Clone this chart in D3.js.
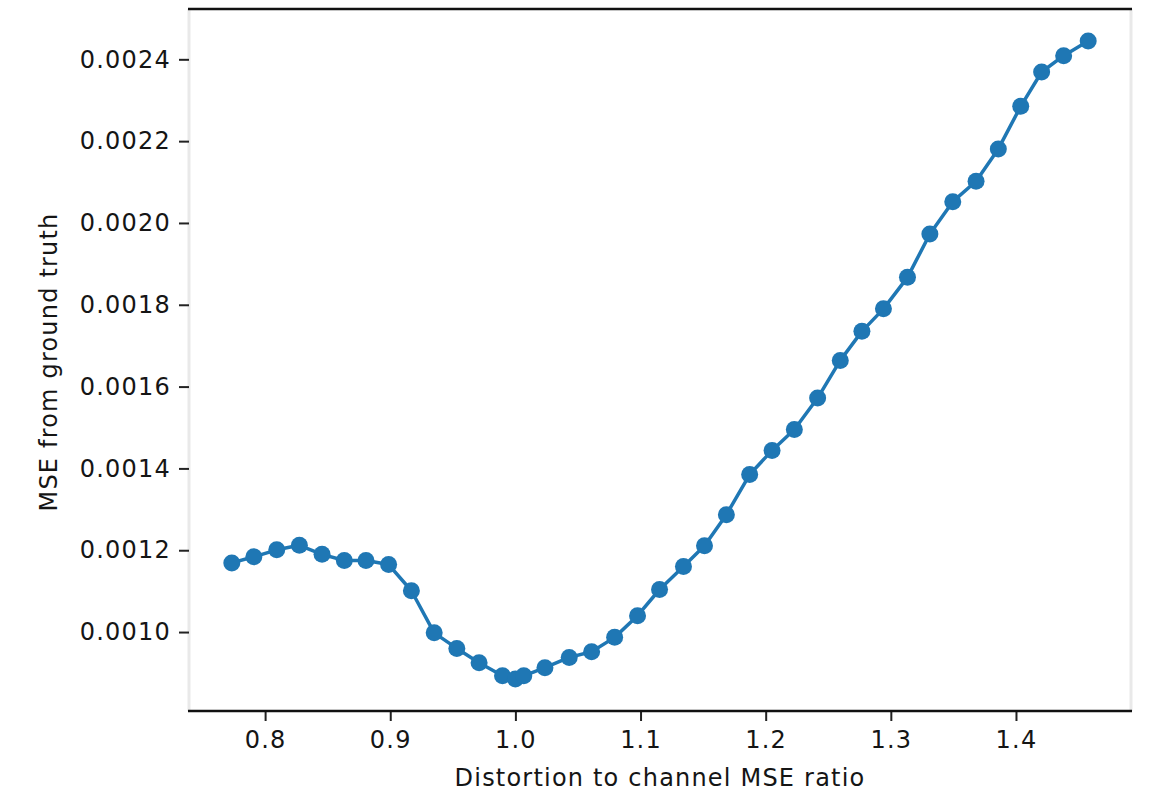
<!DOCTYPE html>
<html>
<head>
<meta charset="utf-8">
<script src="https://cdn.jsdelivr.net/npm/d3@7"></script>
<style>
  html, body { margin: 0; padding: 0; background: #ffffff; }
  svg { display: block; }
  text { font-family: "DejaVu Sans", sans-serif; fill: #151515; letter-spacing: 1.2px; }
</style>
</head>
<body>
<svg id="chart" width="1152" height="793"></svg>
<script>
// Distortion-to-channel-MSE ratio (x) and the resulting MSE from ground truth (y)
const ratios = [
  0.7734, 0.7910, 0.8093, 0.8274, 0.8455, 0.8633, 0.8806, 0.8987, 0.9169, 0.9351,
  0.9532, 0.9710, 0.9897, 1.0000, 1.0067, 1.0236, 1.0430, 1.0609, 1.0793, 1.0976,
  1.1152, 1.1343, 1.1511, 1.1686, 1.1872, 1.2051, 1.2229, 1.2415, 1.2596, 1.2769,
  1.2941, 1.3133, 1.3312, 1.3495, 1.3681, 1.3859, 1.4038, 1.4205, 1.4381, 1.4577
];
const mseValues = [
  0.001169, 0.001184, 0.001201, 0.001212, 0.001190, 0.001175, 0.001175, 0.001165, 0.001101, 0.000998,
  0.000960, 0.000925, 0.000893, 0.000885, 0.000893, 0.000913, 0.000938, 0.000952, 0.000987, 0.001040,
  0.001104, 0.001160, 0.001211, 0.001287, 0.001385, 0.001444, 0.001495, 0.001572, 0.001664, 0.001735,
  0.001790, 0.001867, 0.001973, 0.002052, 0.002102, 0.002181, 0.002285, 0.002369, 0.002409, 0.002445
];
const xTickValues = [0.8, 0.9, 1.0, 1.1, 1.2, 1.3, 1.4];
const yTickValues = [0.0010, 0.0012, 0.0014, 0.0016, 0.0018, 0.0020, 0.0022, 0.0024];

const xLabel = "Distortion to channel MSE ratio";
const yLabel = "MSE from ground truth";

const plot = { left: 189, right: 1131, top: 9, bottom: 711 };
const lineColor = "#1f77b4";

// Data limits padded by 5% on each side
function padded(values) {
  const [lo, hi] = d3.extent(values);
  const m = (hi - lo) * 0.05;
  return [lo - m, hi + m];
}

const x = d3.scaleLinear().domain(padded(ratios)).range([plot.left, plot.right]);
const y = d3.scaleLinear().domain(padded(mseValues)).range([plot.bottom, plot.top]);

const svg = d3.select("#chart");
const data = ratios.map((r, i) => ({ r, v: mseValues[i] }));

// Frame: light side spines, dark top and bottom spines
svg.append("line").attr("x1", plot.left).attr("x2", plot.left)
  .attr("y1", plot.top).attr("y2", plot.bottom)
  .attr("stroke", "#e9e9e9").attr("stroke-width", 3);
svg.append("line").attr("x1", plot.right).attr("x2", plot.right)
  .attr("y1", plot.top).attr("y2", plot.bottom)
  .attr("stroke", "#e9e9e9").attr("stroke-width", 3);

// Series
const line = d3.line().x(d => x(d.r)).y(d => y(d.v));
svg.append("path").datum(data)
  .attr("d", line)
  .attr("fill", "none")
  .attr("stroke", lineColor)
  .attr("stroke-width", 3.5)
  .attr("stroke-linejoin", "round");

svg.append("g").selectAll("circle").data(data).join("circle")
  .attr("cx", d => x(d.r))
  .attr("cy", d => y(d.v))
  .attr("r", 8.5)
  .attr("fill", lineColor);

// X axis
const xAxis = d3.axisBottom(x)
  .tickValues(xTickValues)
  .tickFormat(d3.format(".1f"))
  .tickSize(10)
  .tickPadding(10);
const gx = svg.append("g").attr("transform", `translate(0,${plot.bottom})`).call(xAxis);
gx.select(".domain").remove();
gx.selectAll(".tick line").attr("stroke", "#222").attr("stroke-width", 2);
gx.selectAll(".tick text").attr("font-size", 24).attr("font-family", "DejaVu Sans").attr("fill", "#151515");

// Y axis
const yAxis = d3.axisLeft(y)
  .tickValues(yTickValues)
  .tickFormat(d3.format(".4f"))
  .tickSize(10)
  .tickPadding(8);
const gy = svg.append("g").attr("transform", `translate(${plot.left},0)`).call(yAxis);
gy.select(".domain").remove();
gy.selectAll(".tick line").attr("stroke", "#222").attr("stroke-width", 2);
gy.selectAll(".tick text").attr("font-size", 24).attr("font-family", "DejaVu Sans").attr("fill", "#151515");

// Top and bottom spines
svg.append("line").attr("x1", plot.left - 1).attr("x2", plot.right + 1)
  .attr("y1", plot.top).attr("y2", plot.top)
  .attr("stroke", "#111").attr("stroke-width", 2.5);
svg.append("line").attr("x1", plot.left - 1).attr("x2", plot.right + 1)
  .attr("y1", plot.bottom).attr("y2", plot.bottom)
  .attr("stroke", "#111").attr("stroke-width", 2.5);

// Axis titles
svg.append("text")
  .attr("x", (plot.left + plot.right) / 2)
  .attr("y", 786)
  .attr("text-anchor", "middle")
  .attr("font-size", 24)
  .text(xLabel);

svg.append("text")
  .attr("transform", `translate(57,${(plot.top + plot.bottom) / 2 + 2}) rotate(-90)`)
  .attr("text-anchor", "middle")
  .attr("font-size", 24)
  .text(yLabel);
</script>
</body>
</html>
